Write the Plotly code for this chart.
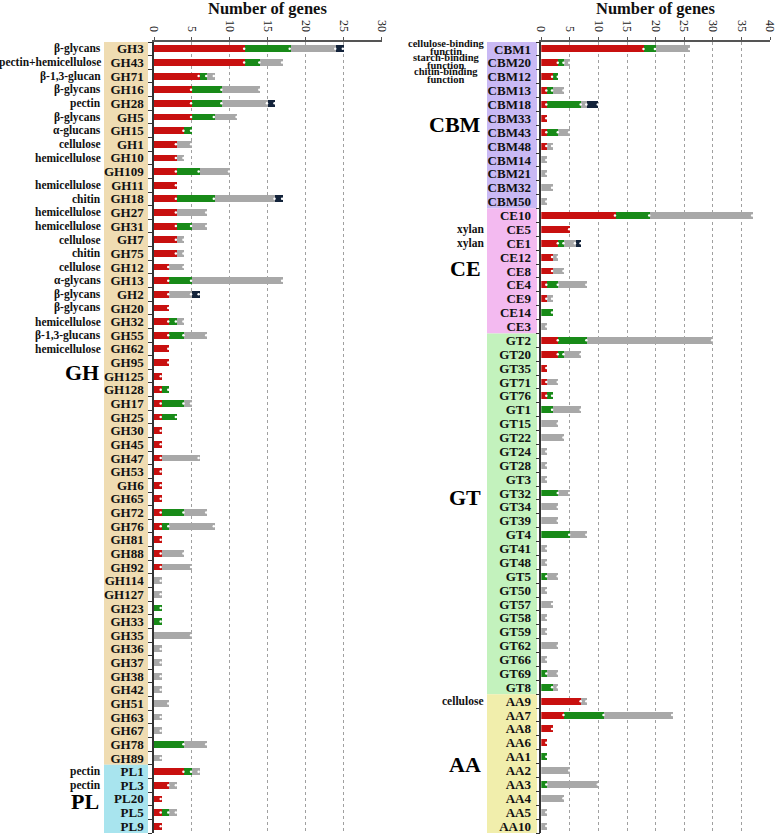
import plotly.graph_objects as go

# ---------------- Left panel data ----------------
left_cats = ["GH3", "GH43", "GH71", "GH16", "GH28", "GH5", "GH15", "GH1", "GH10", "GH109",
             "GH11", "GH18", "GH27", "GH31", "GH7", "GH75", "GH12", "GH13", "GH2", "GH20",
             "GH32", "GH55", "GH62", "GH95", "GH125", "GH128", "GH17", "GH25", "GH30", "GH45",
             "GH47", "GH53", "GH6", "GH65", "GH72", "GH76", "GH81", "GH88", "GH92", "GH114",
             "GH127", "GH23", "GH33", "GH35", "GH36", "GH37", "GH38", "GH42", "GH51", "GH63",
             "GH67", "GH78", "GH89", "PL1", "PL3", "PL20", "PL5", "PL9"]
left_red = [12, 12, 6, 5, 5, 5, 4, 3, 3, 3,
            3, 3, 3, 3, 3, 3, 2, 2, 2, 2,
            2, 2, 2, 2, 1, 1, 1, 1, 1, 1,
            1, 1, 1, 1, 1, 1, 1, 1, 1, 0,
            0, 0, 0, 0, 0, 0, 0, 0, 0, 0,
            0, 0, 0, 4, 2, 1, 1, 1]
left_green = [6, 2, 1, 4, 4, 3, 1, 0, 0, 3,
              0, 5, 0, 2, 0, 0, 0, 3, 0, 0,
              1, 2, 0, 0, 0, 1, 3, 2, 0, 0,
              0, 0, 0, 0, 3, 1, 0, 0, 0, 0,
              0, 1, 1, 0, 0, 0, 0, 0, 0, 0,
              0, 4, 0, 1, 0, 0, 1, 0]
left_gray = [6, 3, 1, 5, 6, 3, 0, 2, 1, 4,
             0, 8, 4, 2, 1, 1, 2, 12, 3, 0,
             1, 3, 0, 0, 0, 0, 1, 0, 0, 0,
             5, 0, 0, 0, 3, 6, 0, 3, 4, 1,
             1, 0, 0, 5, 1, 1, 1, 1, 2, 1,
             1, 3, 1, 1, 1, 0, 1, 0]
left_navy = [1, 0, 0, 0, 1, 0, 0, 0, 0, 0,
             0, 1, 0, 0, 0, 0, 0, 0, 1, 0,
             0, 0, 0, 0, 0, 0, 0, 0, 0, 0,
             0, 0, 0, 0, 0, 0, 0, 0, 0, 0,
             0, 0, 0, 0, 0, 0, 0, 0, 0, 0,
             0, 0, 0, 0, 0, 0, 0, 0]
left_substrate = ["β-glycans", "pectin+hemicellulose", "β-1,3-glucan", "β-glycans", "pectin",
                  "β-glycans", "α-glucans", "cellulose", "hemicellulose", "",
                  "hemicellulose", "chitin", "hemicellulose", "hemicellulose", "cellulose",
                  "chitin", "cellulose", "α-glycans", "β-glycans", "β-glycans",
                  "hemicellulose", "β-1,3-glucans", "hemicellulose"] + [""] * 30 + \
                 ["pectin", "pectin", "", "", ""]
left_groups = ["GH"] * 53 + ["PL"] * 5

# ---------------- Right panel data ----------------
right_cats = ["CBM1", "CBM20", "CBM12", "CBM13", "CBM18", "CBM33", "CBM43", "CBM48", "CBM14",
              "CBM21", "CBM32", "CBM50",
              "CE10", "CE5", "CE1", "CE12", "CE8", "CE4", "CE9", "CE14", "CE3",
              "GT2", "GT20", "GT35", "GT71", "GT76", "GT1", "GT15", "GT22", "GT24", "GT28",
              "GT3", "GT32", "GT34", "GT39", "GT4", "GT41", "GT48", "GT5", "GT50", "GT57",
              "GT58", "GT59", "GT62", "GT66", "GT69", "GT8",
              "AA9", "AA7", "AA8", "AA6", "AA1", "AA2", "AA3", "AA4", "AA5", "AA10"]
right_red = [18, 3, 2, 1, 1, 1, 1, 1, 0, 0, 0, 0,
             13, 5, 3, 2, 2, 1, 1, 0, 0,
             3, 3, 1, 1, 1, 0, 0, 0, 0, 0, 0, 0, 0, 0, 0, 0, 0, 0, 0, 0, 0, 0, 0, 0, 0, 0,
             7, 4, 2, 1, 0, 0, 0, 0, 0, 0]
right_green = [2, 1, 1, 1, 6, 0, 2, 0, 0, 0, 0, 0,
               6, 0, 1, 0, 0, 2, 0, 2, 0,
               5, 1, 0, 0, 1, 2, 0, 0, 0, 0, 0, 3, 0, 0, 5, 0, 0, 1, 0, 0, 0, 0, 0, 0, 1, 2,
               0, 7, 0, 0, 1, 0, 1, 0, 0, 0]
right_gray = [6, 1, 0, 2, 1, 0, 2, 1, 1, 1, 2, 1,
              18, 0, 2, 1, 2, 5, 1, 0, 1,
              22, 3, 0, 2, 0, 5, 3, 4, 1, 1, 1, 2, 3, 3, 3, 1, 1, 2, 1, 2, 1, 1, 3, 1, 2, 1,
              1, 12, 0, 0, 0, 5, 9, 4, 1, 1]
right_navy = [0, 0, 0, 0, 2, 0, 0, 0, 0, 0, 0, 0,
              0, 0, 1, 0, 0, 0, 0, 0, 0] + [0] * 26 + [0] * 10
right_substrate = ["cellulose-binding<br>functin", "starch-binding<br>function",
                   "chitin-binding<br>function"] + [""] * 10 + ["xylan", "xylan"] + [""] * 32 + \
                  ["cellulose"] + [""] * 9
right_groups = ["CBM"] * 12 + ["CE"] * 9 + ["GT"] * 26 + ["AA"] * 10

x_ticks_left = [0, 5, 10, 15, 20, 25, 30]
x_ticks_right = [0, 5, 10, 15, 20, 25, 30, 35, 40]

# ---------------- Styling ----------------
W, H = 778, 837
SERIF = "Liberation Serif, Times New Roman, serif"
RED, GREEN, GRAY, NAVY = "#C8100F", "#188A18", "#A8A8A8", "#13233A"
group_colors = {"GH": "#EFDCB2", "PL": "#A8E4EE", "CBM": "#C9B9F4",
                "CE": "#F3BAF0", "GT": "#C3F2BD", "AA": "#F1EEAC"}


def px(x):
    return x / W


def py(y):
    return 1 - y / H


TOP, BOTTOM = 42, 833
fig = go.Figure()

panels = [
    dict(cats=left_cats, red=left_red, green=left_green, gray=left_gray, navy=left_navy,
         sub=left_substrate, groups=left_groups, xa="x", ya="y", xmax=30, ticks=x_ticks_left,
         x0=154, x1=381.7, box=(104, 148), sub_right=103, big_right=101,
         big_y={"GH": 372, "PL": 801}),
    dict(cats=right_cats, red=right_red, green=right_green, gray=right_gray, navy=right_navy,
         sub=right_substrate, groups=right_groups, xa="x2", ya="y2", xmax=40, ticks=x_ticks_right,
         x0=541.3, x1=770, box=(487, 537), sub_right=486, big_right=483,
         big_y={"CBM": 124, "CE": 268, "GT": 498, "AA": 764}),
]

shapes = []
annotations = []

for p in panels:
    series = [("red", p["red"], RED), ("green", p["green"], GREEN),
              ("gray", p["gray"], GRAY), ("navy", p["navy"], NAVY)]
    for name, vals, col in series:
        fig.add_trace(go.Bar(y=p["cats"], x=vals, orientation="h", marker_color=col,
                             marker_line_width=0, width=0.5, xaxis=p["xa"], yaxis=p["ya"],
                             showlegend=False, name=name))
    # white segment-end dots
    dx, dy = [], []
    cum = [0] * len(p["cats"])
    for name, vals, col in series:
        for i, v in enumerate(vals):
            if v > 0:
                cum[i] += v
                dx.append(cum[i] - 0.12)
                dy.append(p["cats"][i])
    fig.add_trace(go.Scatter(x=dx, y=dy, mode="markers", xaxis=p["xa"], yaxis=p["ya"],
                             marker=dict(color="white", size=2.5), showlegend=False,
                             hoverinfo="skip"))

    # group boxes
    n = len(p["cats"])
    start = 0
    for i in range(1, n + 1):
        if i == n or p["groups"][i] != p["groups"][start]:
            g = p["groups"][start]
            shapes.append(dict(type="rect", xref="paper", yref=p["ya"],
                               x0=px(p["box"][0]), x1=px(p["box"][1]),
                               y0=start - 0.5, y1=i - 0.5,
                               fillcolor=group_colors[g], line_width=0, layer="below"))
            annotations.append(dict(text=g, xref="paper", yref="paper",
                                    x=px(p["big_right"]), y=py(p["big_y"][g]),
                                    xanchor="right", yanchor="middle", showarrow=False,
                                    font=dict(family=SERIF, size=22, color="#000", weight="bold")))
            start = i

    # substrate labels
    for i, s in enumerate(p["sub"]):
        if not s:
            continue
        if "<br>" in s:
            l1, l2 = s.split("<br>")
            cx = p["sub_right"] - 40
            annotations.append(dict(text=l1, xref="paper", yref=p["ya"], x=px(cx), y=i,
                                    xanchor="center", yanchor="middle", yshift=5,
                                    showarrow=False,
                                    font=dict(family=SERIF, size=10.5, color="#111",
                                              weight="bold")))
            annotations.append(dict(text=l2, xref="paper", yref=p["ya"], x=px(cx), y=i,
                                    xanchor="center", yanchor="middle", yshift=-2.5,
                                    showarrow=False,
                                    font=dict(family=SERIF, size=10.5, color="#111",
                                              weight="bold")))
        else:
            annotations.append(dict(text=s, xref="paper", yref=p["ya"], x=px(p["sub_right"]),
                                    y=i, xanchor="right", yanchor="middle", showarrow=False,
                                    font=dict(family=SERIF, size=11.5, color="#111",
                                              weight="bold")))

    # axis title
    annotations.append(dict(text="Number of genes", xref="paper", yref="paper",
                            x=px((p["x0"] + p["x1"]) / 2), y=py(8), xanchor="center",
                            yanchor="middle", showarrow=False,
                            font=dict(family=SERIF, size=16.5, color="#111", weight="bold")))

xaxis_common = dict(side="top", showline=True, linecolor="#555", linewidth=1.5,
                    ticks="outside", ticklen=3, tickcolor="#555", tickangle=90,
                    tickfont=dict(family=SERIF, size=12, color="#222"),
                    ticklabelstandoff=1, automargin=False,
                    showgrid=True, gridcolor="#A0A0A0", griddash="dot", gridwidth=1,
                    zeroline=False, fixedrange=True)
yaxis_common = dict(showline=True, linecolor="#333", linewidth=1.5, ticks="outside",
                    ticklen=4, tickcolor="#333", tickson="boundaries", showgrid=False,
                    tickfont=dict(family=SERIF, size=13, color="#111", weight="bold"),
                    ticklabelstandoff=6, type="category", zeroline=False, automargin=False)

fig.update_layout(
    width=W, height=H, margin=dict(l=0, r=0, t=0, b=0, autoexpand=False),
    paper_bgcolor="white", plot_bgcolor="white", barmode="stack",
    xaxis=dict(xaxis_common, domain=[px(154), px(381.7)], range=[0, 30],
               tickvals=x_ticks_left, anchor="y"),
    xaxis2=dict(xaxis_common, domain=[px(541.3), px(770)], range=[0, 40],
                tickvals=x_ticks_right, anchor="y2"),
    yaxis=dict(yaxis_common, domain=[py(BOTTOM), py(TOP)], anchor="x",
               categoryorder="array", categoryarray=left_cats,
               tickmode="array", tickvals=left_cats, ticktext=left_cats,
               range=[len(left_cats) - 0.5, -0.5]),
    yaxis2=dict(yaxis_common, domain=[py(BOTTOM), py(TOP)], anchor="x2",
                categoryorder="array", categoryarray=right_cats,
                tickmode="array", tickvals=right_cats, ticktext=right_cats,
                range=[len(right_cats) - 0.5, -0.5]),
    shapes=shapes, annotations=annotations,
)

fig.write_html("out.html", config={"displayModeBar": False},
               post_script="document.body.style.margin='0';document.body.style.overflow='hidden';")
